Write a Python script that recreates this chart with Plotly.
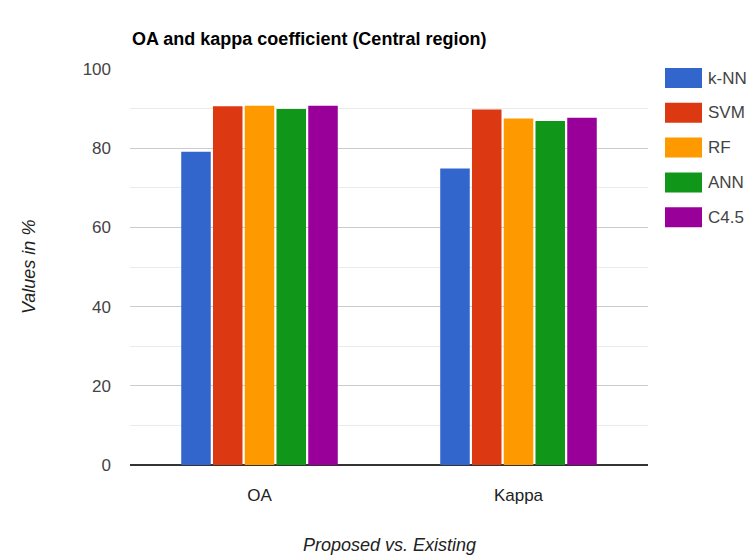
import plotly.graph_objects as go

# Accuracy measures compared across classifiers
categories = ["OA", "Kappa"]
series_names = ["k-NN", "SVM", "RF", "ANN", "C4.5"]
oa_values = [79.1, 90.6, 90.7, 89.9, 90.7]
kappa_values = [74.9, 89.8, 87.5, 86.9, 87.7]
y_ticks = [0, 20, 40, 60, 80, 100]

colors = ["#3366cc", "#dc3912", "#ff9900", "#109618", "#990099"]

FONT = "Liberation Sans, Arial, sans-serif"

W, H = 749, 556
L, R, T, B = 130, 101, 69, 91
plot_w = W - L - R
plot_h = H - T - B


def px_x(x):
    """Pixel column -> paper x."""
    return (x - L) / plot_w


def px_y(y):
    """Pixel row -> paper y."""
    return (H - B - y) / plot_h


fig = go.Figure()
for i, name in enumerate(series_names):
    fig.add_trace(go.Bar(
        x=categories,
        y=[oa_values[i], kappa_values[i]],
        name=name,
        marker=dict(color=colors[i], line=dict(width=0)),
        showlegend=False,
    ))

# Legend drawn as coloured blocks with labels to the right of the plot
shapes = []
annotations = []
leg_x0, leg_x1, leg_text_x = 665, 702, 706
leg_first_cy, leg_step, leg_half_h = 78, 34.8, 10
for i, name in enumerate(series_names):
    cy = leg_first_cy + i * leg_step
    shapes.append(dict(
        type="rect", xref="paper", yref="paper",
        x0=px_x(leg_x0), x1=px_x(leg_x1),
        y0=px_y(cy + leg_half_h), y1=px_y(cy - leg_half_h),
        fillcolor=colors[i], line=dict(width=0),
    ))
    annotations.append(dict(
        xref="paper", yref="paper", x=px_x(leg_text_x), y=px_y(cy),
        text=name, showarrow=False, xanchor="left", yanchor="middle",
        font=dict(family=FONT, size=17, color="#444444"),
    ))

# Chart title and axis titles
annotations += [
    dict(xref="paper", yref="paper", x=0, y=px_y(39),
         text="<b>OA and kappa coefficient (Central region)</b>",
         showarrow=False, xanchor="left", yanchor="middle",
         font=dict(family=FONT, size=18, color="#000000")),
    dict(xref="paper", yref="paper", x=0.5, y=px_y(545),
         text="<i>Proposed vs. Existing</i>",
         showarrow=False, xanchor="center", yanchor="middle",
         font=dict(family=FONT, size=18, color="#222222")),
    dict(xref="paper", yref="paper", x=px_x(29), y=0.5,
         text="<i>Values in %</i>", textangle=-90,
         showarrow=False, xanchor="center", yanchor="middle",
         font=dict(family=FONT, size=18, color="#222222")),
]

fig.update_layout(
    width=W, height=H,
    margin=dict(l=L, r=R, t=T, b=B, pad=0),
    paper_bgcolor="white", plot_bgcolor="white",
    barmode="group", bargap=0.387, bargroupgap=0.07,
    shapes=shapes, annotations=annotations,
    font=dict(family=FONT, size=17, color="#444444"),
    xaxis=dict(
        automargin=False,
        showgrid=False, showline=False, zeroline=False,
        ticks="", ticklabelstandoff=18,
        tickfont=dict(family=FONT, size=17, color="#222222"),
    ),
    yaxis=dict(
        automargin=False,
        range=[0, 100], tickvals=y_ticks,
        showgrid=True, gridcolor="#cccccc", gridwidth=1,
        minor=dict(dtick=10, showgrid=True, gridcolor="#ebebeb"),
        zeroline=True, zerolinecolor="#333333", zerolinewidth=1.5,
        showline=False, ticks="", ticklabelstandoff=18,
        tickfont=dict(family=FONT, size=17, color="#444444"),
    ),
)

fig.write_html("out.html")
